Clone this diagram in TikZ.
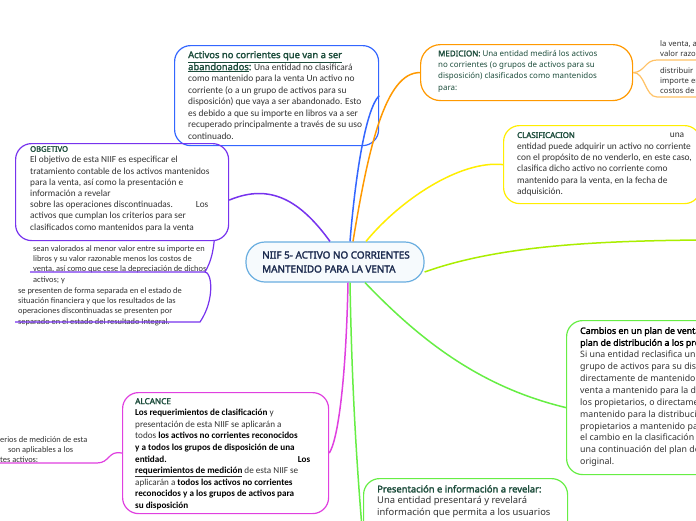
\documentclass[tikz,border=0pt]{standalone}
\usepackage{fontspec}
\setmainfont{Noto Sans}[BoldFont=*, BoldFeatures={FakeBold=2.2}]
\newfontfamily\calfont{Carlito}
\definecolor{hgreen}{HTML}{1D4D3C}
\definecolor{bodyc}{HTML}{333333}
\definecolor{navy}{HTML}{1B2A4E}
\definecolor{cblue}{HTML}{3366FF}
\definecolor{corange}{HTML}{FF9900}
\definecolor{cyellow}{HTML}{FFEE00}
\definecolor{cpurple}{HTML}{7733EE}
\definecolor{cmagenta}{HTML}{E040E0}
\definecolor{cgreen}{HTML}{66EE44}
\definecolor{clime}{HTML}{AAEE00}
\definecolor{cltblue}{HTML}{6AAEE0}
\tikzset{
  box/.style={draw=#1, line width=1.2pt, rounded corners=16pt, anchor=north west, inner sep=0pt},
  conn/.style={draw=#1, line width=1.5pt},
  txt/.style={anchor=north west, inner sep=0pt, align=left, text=bodyc},
}
\begin{document}
\begin{tikzpicture}[x=1pt,y=-1pt]
\clip (0,0) rectangle (696,520);
\fill[white] (0,0) rectangle (696,520);
% boxes
\node[box=cblue, minimum width=204pt, minimum height=100pt] (aband) at (174,45) {};
\node[box=corange, minimum width=212pt, minimum height=56pt, rounded corners=20pt] (medic) at (420,44) {};
\node[box=cyellow, minimum width=197pt, minimum height=78pt] (clasif) at (503,125) {};
\node[box=cpurple, minimum width=213pt, minimum height=97pt] (obj) at (15,143) {};
\node[box=cmagenta, minimum width=206pt, minimum height=121pt] (alc) at (122,392) {};
\node[box=cgreen, minimum width=160pt, minimum height=154pt] (camb) at (566,320) {};
\node[box=cgreen, minimum width=204pt, minimum height=80pt] (pres) at (363,478) {};
\node[draw=cltblue, fill=cltblue!6, line width=1.2pt, rounded corners=19pt, minimum width=178pt, minimum height=40pt, inner sep=0pt] (c) at (335,262) {};
% connectors
\coordinate (lime) at (700,240);
\coordinate (presend) at (363,540);
\draw[conn=cblue] ([xshift=15pt]c.north) .. controls (355,180) and (365,110) .. (aband.east);
\draw[conn=corange] ([xshift=18pt]c.north) .. controls (368,150) and (385,72) .. (medic.west);
\draw[conn=cyellow] ([xshift=31pt]c.north) .. controls (400,200) and (460,160) .. (clasif.west);
\draw[conn=cpurple] ([xshift=-5pt]c.north) .. controls (300,200) and (270,183) .. ([yshift=-8pt]obj.east);
\draw[conn=clime] ([yshift=-10pt]c.east) .. controls (500,245) and (600,241) .. (lime);
\draw[conn=cmagenta] ([xshift=13pt]c.south) .. controls (346,380) and (338,440) .. (alc.east);
\draw[conn=cgreen] ([xshift=30pt]c.south) .. controls (420,340) and (480,387) .. ([yshift=-10pt]camb.west);
\draw[conn=cgreen] ([xshift=15pt]c.south) .. controls (352,400) and (358,480) .. (presend);
% center text
\node[anchor=west, inner sep=0pt, align=left, text=navy, font=\bfseries\fontsize{9.9}{14}\selectfont] (ct) at (262,262) {NIIF 5- ACTIVO NO CORRIENTES\\MANTENIDO PARA LA VENTA};
% aband text
\node[txt, font=\calfont\fontsize{9.4}{11.5}\selectfont] (abandt) at (188,51) {{\rmfamily\bfseries\color{hgreen}\fontsize{9.4}{13}\selectfont\underline{Activos no corrientes que van a ser}}\\[0.5pt]
{\rmfamily\bfseries\color{hgreen}\fontsize{9.4}{13}\selectfont\underline{abandonados}:} Una entidad no clasificará\\
como mantenido para la venta Un activo no\\
corriente (o a un grupo de activos para su\\
disposición) que vaya a ser abandonado. Esto\\
es debido a que su importe en libros va a ser\\
recuperado principalmente a través de su uso\\
continuado.};
% medicion
\node[txt, text=hgreen, font=\fontsize{7.95}{11.3}\selectfont] (medt) at (438,50) {\textbf{MEDICION:} Una entidad medirá los activos\\
no corrientes (o grupos de activos para su\\
disposición) clasificados como mantenidos\\
para:};
\node[txt, font=\fontsize{7.7}{10}\selectfont] (m1) at (660,40) {la venta, al\\valor razonable};
\node[txt, font=\fontsize{7.7}{10}\selectfont] (m2) at (660,67) {distribuir\\importe en\\costos de};
\coordinate (m1u) at (657,60);
\coordinate (m2u) at (657,97);
\draw[corange!60, line width=1.2pt] (medic.east) .. controls (645,72) and (645,60) .. (m1u) -- (700,60);
\draw[corange!60, line width=1.2pt] (medic.east) .. controls (645,72) and (645,97) .. (m2u) -- (700,97);
% clasificacion
\node[txt, font=\calfont\fontsize{9.4}{11.3}\selectfont] (clt) at (517,132) {\makebox[167pt][l]{{\rmfamily\bfseries\color{hgreen}\fontsize{7.9}{11.3}\selectfont CLASIFICACION}\hfill una}\\
entidad puede adquirir un activo no corriente\\
con el propósito de no venderlo, en este caso,\\
clasifica dicho activo no corriente como\\
mantenido para la venta, en la fecha de\\
adquisición.};
% objetivo
\node[txt, font=\calfont\fontsize{9.3}{11.2}\selectfont] (objt) at (30,146) {{\rmfamily\bfseries\color{hgreen}\fontsize{7.6}{11}\selectfont OBGETIVO}\\
El objetivo de esta NIIF es especificar el\\
tratamiento contable de los activos mantenidos\\
para la venta, así como la presentación e\\
información a revelar\\
sobre las operaciones discontinuadas.\hspace{23pt}Los\\
activos que cumplan los criterios para ser\\
clasificados como mantenidos para la venta};
% objetivo children
\node[txt, font=\calfont\fontsize{8.4}{10.4}\selectfont] (o1) at (33,245) {sean valorados al menor valor entre su importe en\\
libros y su valor razonable menos los costos de\\
venta, así como que cese la depreciación de dichos\\
activos; y};
\node[txt, font=\calfont\fontsize{8.4}{10.4}\selectfont] (o2) at (18,287) {se presenten de forma separada en el estado de\\
situación financiera y que los resultados de las\\
operaciones discontinuadas se presenten por\\
separado en el estado del resultado Integral.};
\coordinate (o1u) at (205,272);
\coordinate (o2u) at (200,322);
\coordinate (o1s) at (30,272);
\coordinate (o2s) at (15,322);
\draw[cpurple, line width=1.2pt] (o1s) -- (o1u) .. controls (212,260) and (213,250) .. ([xshift=-15pt]obj.south east);
\draw[cpurple, line width=1.2pt] (o2s) -- (o2u) .. controls (215,300) and (212,272) .. (o1u);
% alcance
\node[txt, font=\calfont\fontsize{9.15}{11.6}\selectfont] (alct) at (135,398) {{\rmfamily\bfseries\color{hgreen}\fontsize{8.2}{11}\selectfont ALCANCE}\\
\textbf{\color{black}Los requerimientos de clasificación} y\\
presentación de esta NIIF se aplicarán a\\
todos \textbf{\color{black}los activos no corrientes reconocidos}\\
\textbf{\color{black}y a todos los grupos de disposición de una}\\
\makebox[175pt][l]{\textbf{\color{black}entidad.}\hfill\textbf{\color{black}Los}}\\
\underline{\textbf{\color{black}requerimientos de medición}} de esta NIIF se\\
aplicarán a \textbf{\color{black}todos los activos no corrientes}\\
\textbf{\color{black}reconocidos y a los grupos de activos para}\\
\textbf{\color{black}su disposición}};
\node[txt, font=\calfont\fontsize{8.4}{10.4}\selectfont] (a1) at (0,436) {erios de medición de esta\\
\hspace*{8pt}son aplicables a los\\
tes activos:};
\coordinate (a1u) at (97,463);
\coordinate (a1s) at (0,463);
\draw[cmagenta, line width=1.2pt] (a1s) -- (a1u) .. controls (110,463) and (108,450) .. (alc.west);
% cambios
\node[txt, font=\fontsize{8.8}{11.9}\selectfont] (cambt) at (580,327) {{\bfseries\color{black}Cambios en un plan de venta}\\
{\bfseries\color{black}plan de distribución a los pro}\\
Si una entidad reclasifica un\\
grupo de activos para su dis\\
directamente de mantenido\\
venta a mantenido para la di\\
los propietarios, o directame\\
mantenido para la distribució\\
propietarios a mantenido pa\\
el cambio en la clasificación\\
una continuación del plan de\\
original.};
% presentacion
\node[txt, font=\fontsize{9.4}{11.5}\selectfont] (prest) at (377,485) {{\bfseries\color{hgreen}Presentación e información a revelar:}\\
Una entidad presentará y revelará\\
información que permita a los usuarios};
\end{tikzpicture}
\end{document}
